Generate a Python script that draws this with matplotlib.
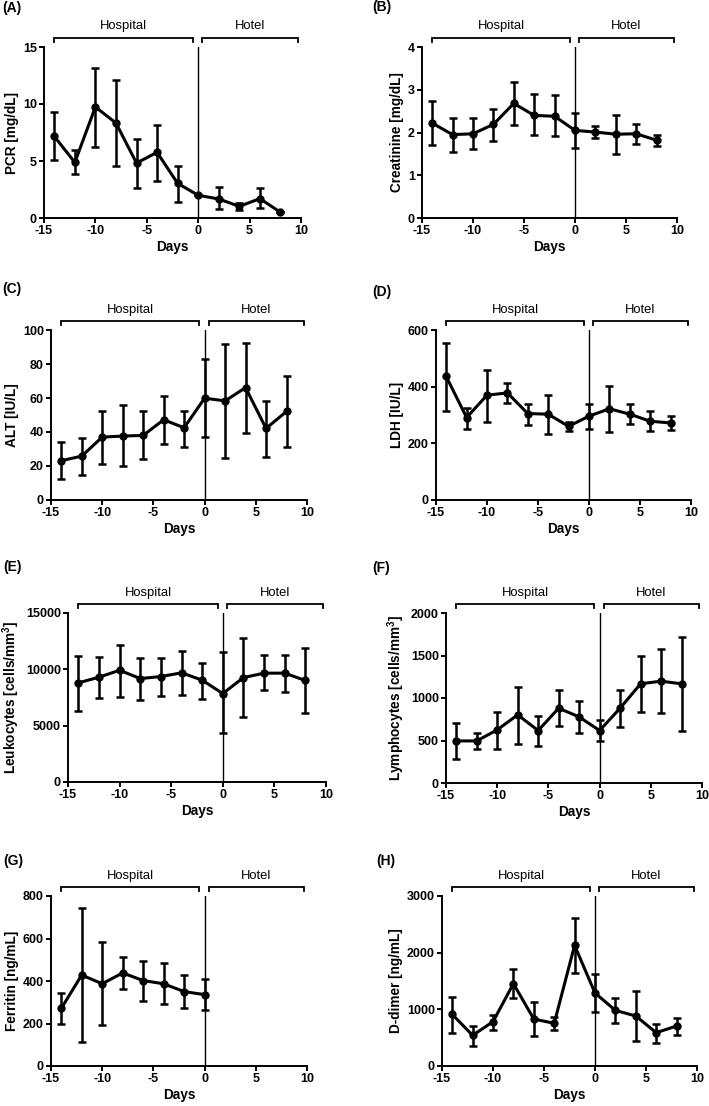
import matplotlib
matplotlib.use("Agg")
import matplotlib.pyplot as plt
import matplotlib.transforms as mtransforms
import numpy as np

plt.rcParams['font.family'] = ['Liberation Sans', 'DejaVu Sans']

days = [-14, -12, -10, -8, -6, -4, -2, 0, 2, 4, 6, 8]

# PCR [mg/dL]
pcr_mean = [7.16, 4.88, 9.74, 8.33, 4.82, 5.76, 3.04, 1.99, 1.67, 1.02, 1.70, 0.50]
pcr_low = [5.06, 3.83, 6.23, 4.59, 2.60, 3.27, 1.43, 1.99, 0.76, 0.70, 0.85, 0.50]
pcr_up = [9.33, 5.94, 13.2, 12.1, 6.90, 8.19, 4.53, 1.99, 2.69, 1.29, 2.60, 0.50]

# Creatinine [mg/dL]
cre_mean = [2.22, 1.95, 1.97, 2.19, 2.68, 2.40, 2.38, 2.05, 2.01, 1.96, 1.97, 1.82]
cre_low = [1.71, 1.55, 1.62, 1.79, 2.17, 1.95, 1.91, 1.63, 1.87, 1.50, 1.73, 1.68]
cre_up = [2.73, 2.33, 2.33, 2.56, 3.17, 2.90, 2.88, 2.46, 2.15, 2.41, 2.19, 1.95]

# ALT [IU/L]
alt_mean = [23.1, 25.8, 37.0, 37.6, 38.0, 47.2, 42.5, 59.9, 58.3, 66.1, 42.1, 52.1]
alt_low = [12.1, 14.9, 21.3, 19.8, 24.1, 32.7, 31.1, 37.0, 24.7, 39.3, 25.2, 31.3]
alt_up = [34.2, 36.4, 52.4, 55.6, 52.1, 61.4, 52.6, 82.8, 92.0, 92.6, 58.1, 73.0]

# LDH [IU/L]
ldh_mean = [436, 291, 370, 378, 305, 303, 260, 296, 322, 303, 278, 272]
ldh_low = [315, 250, 277, 343, 265, 232, 242, 251, 240, 268, 245, 247]
ldh_up = [553, 325, 459, 413, 340, 371, 276, 339, 403, 339, 314, 296]

# Leukocytes [cells/mm3]
leu_mean = [8800, 9300, 9920, 9180, 9360, 9690, 9040, 7850, 9270, 9660, 9660, 9010]
leu_low = [6290, 7470, 7560, 7260, 7650, 7680, 7410, 4310, 5730, 8150, 8000, 6110]
leu_up = [11220, 11130, 12170, 11010, 11010, 11600, 10570, 11550, 12820, 11250, 11310, 11900]

# Lymphocytes [cells/mm3]
lym_mean = [495, 495, 625, 802, 617, 880, 778, 617, 880, 1167, 1198, 1167]
lym_low = [287, 397, 397, 460, 436, 672, 593, 495, 664, 841, 821, 617]
lym_up = [707, 593, 841, 1132, 786, 1092, 959, 743, 1096, 1489, 1576, 1713]

# Ferritin [ng/mL] (hospital only)
fer_days = [-14, -12, -10, -8, -6, -4, -2, 0]
fer_mean = [271, 428, 387, 438, 402, 387, 350, 336]
fer_low = [199, 111, 191, 364, 306, 293, 273, 264]
fer_up = [345, 744, 582, 511, 496, 485, 430, 408]

# D-dimer [ng/mL]
dd_mean = [912, 541, 782, 1453, 829, 753, 2129, 1288, 982, 882, 588, 706]
dd_low = [588, 359, 635, 1194, 524, 629, 1641, 953, 753, 447, 400, 547]
dd_up = [1218, 706, 906, 1718, 1129, 865, 2618, 1624, 1200, 1318, 741, 853]

x_ticks = [-15, -10, -5, 0, 5, 10]

panels = [
    ("(A)", "PCR [mg/dL]", days, pcr_mean, pcr_low, pcr_up, 15, [0, 5, 10, 15]),
    ("(B)", "Creatinine [mg/dL]", days, cre_mean, cre_low, cre_up, 4, [0, 1, 2, 3, 4]),
    ("(C)", "ALT [IU/L]", days, alt_mean, alt_low, alt_up, 100, [0, 20, 40, 60, 80, 100]),
    ("(D)", "LDH [IU/L]", days, ldh_mean, ldh_low, ldh_up, 600, [0, 200, 400, 600]),
    ("(E)", "Leukocytes [cells/mm$^{\\mathbf{3}}$]", days, leu_mean, leu_low, leu_up, 15000, [0, 5000, 10000, 15000]),
    ("(F)", "Lymphocytes [cells/mm$^{\\mathbf{3}}$]", days, lym_mean, lym_low, lym_up, 2000, [0, 500, 1000, 1500, 2000]),
    ("(G)", "Ferritin [ng/mL]", fer_days, fer_mean, fer_low, fer_up, 800, [0, 200, 400, 600, 800]),
    ("(H)", "D-dimer [ng/mL]", days, dd_mean, dd_low, dd_up, 3000, [0, 1000, 2000, 3000]),
]

W, H = 709, 1106
# axes boxes in pixels: left, top, right, bottom
boxes = [
    (44, 47, 301, 218), (422, 47, 677, 218),
    (51, 330, 307, 500), (436, 330, 691, 500),
    (68, 613, 326, 782), (446, 613, 702, 783),
    (51, 896, 307, 1066), (442, 896, 697, 1066),
]
label_pos = [(2, 8), (372, 7), (2, 289), (372, 292), (3, 567), (372, 568), (3, 861), (376, 861)]

plt.rcParams['mathtext.fontset'] = 'custom'
plt.rcParams['mathtext.bf'] = 'Liberation Sans:bold'
plt.rcParams['mathtext.rm'] = 'Liberation Sans:bold'

fig = plt.figure(figsize=(W / 100, H / 100), dpi=100)

for (plabel, ylabel, xs, m, lo, up, ymax, yticks), (l, t, r, b), (lx, ly) in zip(panels, boxes, label_pos):
    ax = fig.add_axes([l / W, 1 - b / H, (r - l) / W, (b - t) / H])
    m = np.array(m, dtype=float)
    lo = np.array(lo, dtype=float)
    up = np.array(up, dtype=float)
    ax.axvline(0, color='black', lw=1.0, zorder=1)
    ax.errorbar(xs, m, yerr=[m - lo, up - m], color='black', lw=2.2, elinewidth=1.8,
                capsize=3.2, capthick=1.8, marker='o', markersize=5, zorder=3,
                clip_on=False)
    ax.set_xlim(-15, 10)
    ax.set_ylim(0, ymax)
    ax.set_xticks(x_ticks)
    ax.set_xticklabels([str(v) for v in x_ticks])
    ax.set_yticks(yticks)
    ax.set_yticklabels([str(v) for v in yticks])
    for s in ['top', 'right']:
        ax.spines[s].set_visible(False)
    for s in ['left', 'bottom']:
        ax.spines[s].set_linewidth(1.4)
    ax.tick_params(axis='both', direction='out', length=3.6, width=1.4, labelsize=9,
                   pad=1.5)
    for lab in ax.get_xticklabels() + ax.get_yticklabels():
        lab.set_fontweight('bold')
    ax.set_xlabel("Days", fontsize=9.8, fontweight='bold', labelpad=2)
    ax.set_ylabel(ylabel, fontsize=9.8, fontweight='bold', labelpad=3)

    trans = mtransforms.blended_transform_factory(ax.transData, ax.transAxes)
    for (x0, x1, name) in [(-14, -0.5, "Hospital"), (0.4, 9.7, "Hotel")]:
        ax.plot([x0, x0, x1, x1], [1.028, 1.055, 1.055, 1.028], color='black', lw=1.3,
                transform=trans, clip_on=False, solid_joinstyle='miter')
        ax.text((x0 + x1) / 2, 1.12, name, transform=trans, ha='center', va='center',
                fontsize=9.4)

    fig.text(lx / W, 1 - ly / H, plabel, ha='left', va='center', fontsize=10,
             fontweight='bold')

fig.savefig("out.png", dpi=100)
